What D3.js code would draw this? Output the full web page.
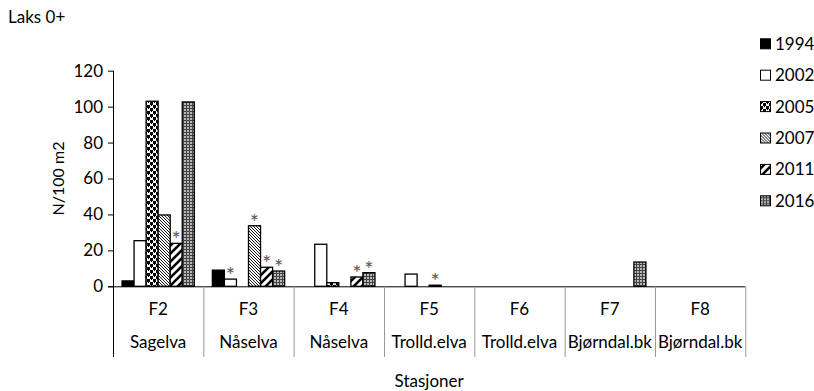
<!DOCTYPE html>
<html><head><meta charset="utf-8">
<script src="https://cdn.jsdelivr.net/npm/d3@7"></script>
<style>body{margin:0;background:#fff}svg text{font-family:"Lato","Open Sans",sans-serif;fill:#000}</style>
</head><body><svg id="c" width="814" height="391"></svg>
<script>
const stations = ["F2","F3","F4","F5","F6","F7","F8"];
const rivers = ["Sagelva","Nåselva","Nåselva","Trolld.elva","Trolld.elva","Bjørndal.bk","Bjørndal.bk"];
const years = ["1994","2002","2005","2007","2011","2016"];
const v1994 = [3, 9, 0, 0, 0, 0, 0];
const v2002 = [25.4, 4, 23.4, 6.8, 0, 0, 0];
const v2005 = [103, 0, 2, 0, 0, 0, 0];
const v2007 = [39.7, 33.7, 0, 0.6, 0, 0, 0];
const v2011 = [23.9, 10.6, 5.2, 0, 0, 0, 0];
const v2016 = [102.6, 8.5, 7.6, 0, 0, 13.5, 0];
const stars2002 = [0,1,0,0,0,0,0];
const stars2007 = [0,1,0,1,0,0,0];
const stars2011 = [1,1,1,0,0,0,0];
const stars2016 = [0,1,1,0,0,0,0];
const yTicks = [0,20,40,60,80,100,120];

const series = [v1994,v2002,v2005,v2007,v2011,v2016];
const stars = [null,stars2002,null,stars2007,stars2011,stars2016];

const svg = d3.select("#c");
const defs = svg.append("defs");
// patterns
let p = defs.append("pattern").attr("id","p2005").attr("patternUnits","userSpaceOnUse").attr("width",6).attr("height",6);
p.append("rect").attr("width",6).attr("height",6).attr("fill","#fff");
p.append("rect").attr("x",0).attr("y",0).attr("width",3).attr("height",3).attr("fill","#000");
p.append("rect").attr("x",3).attr("y",3).attr("width",3).attr("height",3).attr("fill","#000");
p.append("rect").attr("x",1).attr("y",3).attr("width",1).attr("height",1).attr("fill","#000");
p.append("rect").attr("x",4).attr("y",0).attr("width",1).attr("height",1).attr("fill","#000");

p = defs.append("pattern").attr("id","p2007").attr("patternUnits","userSpaceOnUse").attr("width",3).attr("height",3);
p.append("rect").attr("width",3).attr("height",3).attr("fill","#fff");
p.append("path").attr("d","M-1,-1L4,4M-1,2L1,4M2,-1L4,1").attr("stroke","#000").attr("stroke-width",0.9);

p = defs.append("pattern").attr("id","p2011").attr("patternUnits","userSpaceOnUse").attr("width",8).attr("height",8);
p.append("rect").attr("width",8).attr("height",8).attr("fill","#fff");
p.append("path").attr("d","M-2,10L10,-2M-6,6L6,-6M2,14L14,2").attr("stroke","#000").attr("stroke-width",2.6);

p = defs.append("pattern").attr("id","p2016").attr("patternUnits","userSpaceOnUse").attr("width",3).attr("height",3);
p.append("rect").attr("width",3).attr("height",3).attr("fill","#b8b8b8");
p.append("path").attr("d","M0.5,0V3M0,0.5H3").attr("stroke","#444").attr("stroke-width",1);

const fills = ["#000","#fff","url(#p2005)","url(#p2007)","url(#p2011)","url(#p2016)"];

const mLeft = 113, mRight = 745.3, mTop = 70.7, mBottom = 286.3;
const x = d3.scaleBand().domain(stations).range([mLeft,mRight]).paddingInner(0).paddingOuter(0);
const xs = d3.scaleBand().domain(years).range([0,x.bandwidth()]).paddingOuter(0.75).paddingInner(0);
const y = d3.scaleLinear().domain([0,120]).range([mBottom,mTop]);

// title
svg.append("text").attr("x",8).attr("y",23).attr("font-size",17).text("Laks 0+");

// y axis
const ya = svg.append("g").attr("transform",`translate(${mLeft},0)`)
  .call(d3.axisLeft(y).tickValues(yTicks).tickSize(5).tickPadding(5));
ya.select(".domain").remove();
ya.selectAll("line").attr("stroke","#000");
ya.selectAll("text").attr("font-size",17).attr("font-family","Lato, 'Open Sans', sans-serif").attr("fill","#000");
svg.append("line").attr("x1",mLeft+0.5).attr("x2",mLeft+0.5).attr("y1",mTop).attr("y2",357).attr("stroke","#000");
svg.append("text").attr("transform",`translate(64,${(mTop+mBottom)/2}) rotate(-90)`).attr("text-anchor","middle").attr("font-size",16).text("N/100 m2");

// bars
years.forEach((yr,i)=>{
  const pts = series[i].map((d,j)=>({d,j,s:stars[i]?stars[i][j]:0}));
  svg.append("g").selectAll("rect").data(pts.filter(o=>o.d>0)).join("rect")
    .attr("x",o=>x(stations[o.j])+xs(yr))
    .attr("y",o=>y(o.d))
    .attr("width",xs.bandwidth())
    .attr("height",o=>mBottom-y(o.d))
    .attr("fill",fills[i]).attr("stroke","#000").attr("stroke-width",1.3);
  svg.append("g").selectAll("text").data(pts.filter(o=>o.s)).join("text")
    .attr("x",o=>x(stations[o.j])+xs(yr)+xs.bandwidth()/2)
    .attr("y",o=>y(o.d)+4)
    .attr("text-anchor","middle").attr("font-size",22).style("fill","#595959").text("*");
});

// x axis line
svg.append("line").attr("x1",mLeft-5).attr("x2",mRight).attr("y1",mBottom+0.5).attr("y2",mBottom+0.5).attr("stroke","#000");
// separators
stations.forEach((s,j)=>{
  if(j>0) svg.append("line").attr("x1",x(s)+0.5).attr("x2",x(s)+0.5).attr("y1",mBottom).attr("y2",357).attr("stroke","#999");
});
svg.append("line").attr("x1",mRight+0.5).attr("x2",mRight+0.5).attr("y1",mBottom).attr("y2",357).attr("stroke","#999");
svg.append("g").selectAll("text").data(stations).join("text")
  .attr("x",d=>x(d)+x.bandwidth()/2).attr("y",315).attr("text-anchor","middle").attr("font-size",17).text(d=>d);
svg.append("g").selectAll("text").data(rivers).join("text")
  .attr("x",(d,j)=>x(stations[j])+x.bandwidth()/2).attr("y",348).attr("text-anchor","middle").attr("font-size",17).text(d=>d);
svg.append("text").attr("x",(mLeft+mRight)/2).attr("y",387).attr("text-anchor","middle").attr("font-size",17).text("Stasjoner");

// legend
const lg = svg.append("g").selectAll("g").data(years).join("g")
  .attr("transform",(d,i)=>`translate(760,${43.3+i*31.4})`);
lg.append("rect").attr("x",0.5).attr("y",-4.5).attr("width",10).attr("height",10).attr("fill",(d,i)=>fills[i]).attr("stroke","#000").attr("stroke-width",1);
lg.append("text").attr("x",15).attr("y",6.5).attr("font-size",17).text(d=>d);
</script></body></html>
